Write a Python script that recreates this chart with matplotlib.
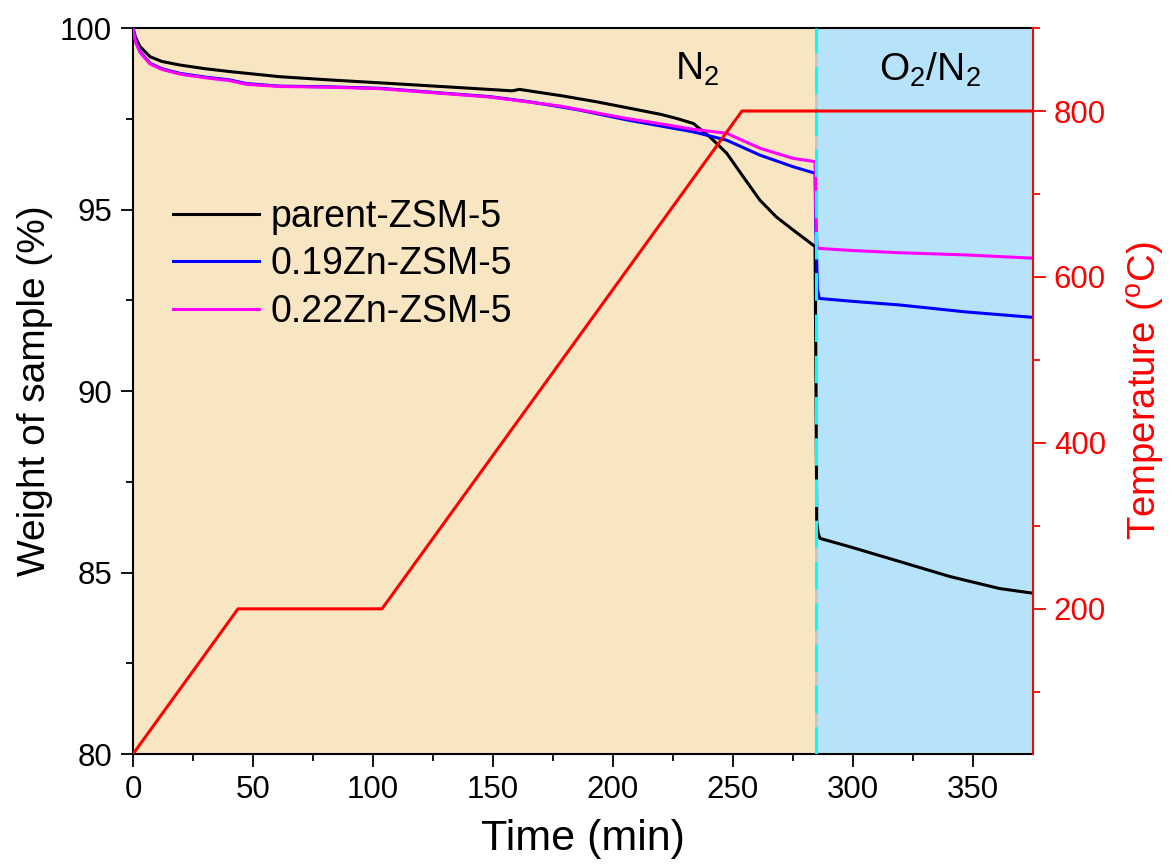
import matplotlib.pyplot as plt

plt.rcParams['font.family'] = ['Liberation Sans', 'DejaVu Sans']
plt.rcParams['mathtext.fontset'] = 'custom'
plt.rcParams['mathtext.rm'] = 'Liberation Sans'

# TGA weight curves (time in min, weight in %)
t_parent = [0, 1, 2.9, 7.1, 12, 19.6, 30, 40.4, 61, 82, 103, 130.7, 158, 161, 164,
            179, 193, 207, 220, 226.5, 233.5, 240.4, 247.4, 254.3, 261.2, 268, 275,
            284.2, 284.6, 284.9, 285.5, 286.3, 298.7, 319.6, 340.4, 361, 375]
w_parent = [100, 99.75, 99.49, 99.21, 99.08, 98.98, 98.88, 98.80, 98.66, 98.57, 98.49,
            98.38, 98.27, 98.31, 98.28, 98.13, 97.97, 97.79, 97.62, 97.51, 97.37, 97.0,
            96.55, 95.90, 95.26, 94.80, 94.44, 93.98, 90.0, 86.4, 86.08, 85.94, 85.71,
            85.30, 84.89, 84.56, 84.43]

t_zn19 = [0, 1, 2.9, 7.1, 12, 19.6, 30, 40.4, 47.2, 61, 82, 103, 130.7, 148.7, 165,
          178, 186, 205.7, 220, 233.5, 247.4, 261.2, 275, 284.2, 284.5, 285.2, 286,
          300, 319.6, 347, 375]
w_zn19 = [100, 99.65, 99.35, 99.03, 98.88, 98.75, 98.65, 98.57, 98.47, 98.40, 98.38,
          98.34, 98.20, 98.11, 97.97, 97.83, 97.74, 97.47, 97.30, 97.14, 96.91, 96.50,
          96.18, 96.0, 94.5, 92.8, 92.55, 92.47, 92.37, 92.18, 92.03]

t_zn22 = [0, 1, 2.9, 7.1, 12, 19.6, 30, 40.4, 47.2, 61, 82, 103, 130.7, 148.7, 165,
          178, 186, 205.7, 220, 233.5, 247.4, 261.2, 275, 284.2, 284.5, 285.0, 285.6,
          300, 319.6, 347, 375]
w_zn22 = [100, 99.63, 99.33, 99.01, 98.86, 98.73, 98.63, 98.55, 98.45, 98.39, 98.37,
          98.33, 98.19, 98.10, 97.96, 97.85, 97.75, 97.51, 97.36, 97.21, 97.10, 96.69,
          96.41, 96.32, 95.0, 94.0, 93.93, 93.87, 93.81, 93.75, 93.66]

# furnace temperature program
t_temp = [0, 43.75, 103.75, 253.75, 375]
temp = [25, 200, 200, 800, 800]

t_switch = 284.6  # gas switched from N2 to O2/N2
t_end = 375

fig = plt.figure(figsize=(11.73, 8.68), dpi=100)
ax = fig.add_axes([0.1134, 0.1313, 0.7672, 0.8364])

ax.axvspan(0, t_switch, color='#F8E6C3', zorder=0, lw=0)
ax.axvspan(t_switch, t_end, color='#B7E3FA', zorder=0, lw=0)
ax.axvline(t_switch, color='#C8C8C8', lw=2.2, zorder=1)

ax.plot(t_parent, w_parent, color='black', lw=2.2, label='parent-ZSM-5', zorder=3)
ax.plot(t_zn19, w_zn19, color='#0000FF', lw=2.2, label='0.19Zn-ZSM-5', zorder=3)
ax.plot(t_zn22, w_zn22, color='#FF00FF', lw=2.2, label='0.22Zn-ZSM-5', zorder=3)
ax.axvline(t_switch, color='#00FFFF', lw=2.2, dashes=(9, 4.5), zorder=4)

ax.text(235, 98.85, 'N$_2$', fontsize=28, ha='center', va='center')
ax.text(332, 98.85, 'O$_2$/N$_2$', fontsize=28, ha='center', va='center')

ax.set_xlim(0, t_end)
ax.set_ylim(80, 100)
ax.set_xticks([0, 50, 100, 150, 200, 250, 300, 350])
ax.set_xticks(range(25, 375, 50), minor=True)
ax.set_yticks([80, 85, 90, 95, 100])
ax.set_yticks([82.5, 87.5, 92.5, 97.5], minor=True)
ax.tick_params(which='major', direction='out', length=9, width=1.3, labelsize=22.5, pad=6)
ax.tick_params(which='minor', direction='out', length=5, width=1.3)
ax.set_xlabel('Time (min)', fontsize=31, labelpad=10)
ax.set_ylabel('Weight of sample (%)', fontsize=28, labelpad=5)
for s in ['left', 'bottom', 'top']:
    ax.spines[s].set_linewidth(1.5)
ax.spines['right'].set_visible(False)

leg = ax.legend(loc='upper left', bbox_to_anchor=(0.028, 0.785), frameon=False,
                fontsize=27, handlelength=2.3, handletextpad=0.3, labelspacing=0.3,
                borderaxespad=0)

ax2 = ax.twinx()
ax2.plot(t_temp, temp, color='#FF0000', lw=2.2)
ax2.set_ylim(25, 900)
ax2.set_yticks([200, 400, 600, 800])
ax2.set_yticks([100, 300, 500, 700, 900], minor=True)
ax2.tick_params(axis='y', which='major', colors='#FF0000', direction='out', length=9,
                width=1.3, labelsize=22.5, pad=6)
ax2.tick_params(axis='y', which='minor', colors='#FF0000', direction='out', length=5,
                width=1.3)
ax2.set_ylabel('Temperature ($^{\\rm o}$C)', fontsize=27.5, color='#FF0000', labelpad=14)
ax2.spines['right'].set_color('#FF0000')
ax2.spines['right'].set_linewidth(1.5)
for s in ['left', 'bottom', 'top']:
    ax2.spines[s].set_visible(False)

fig.savefig('out.png', dpi=100)
